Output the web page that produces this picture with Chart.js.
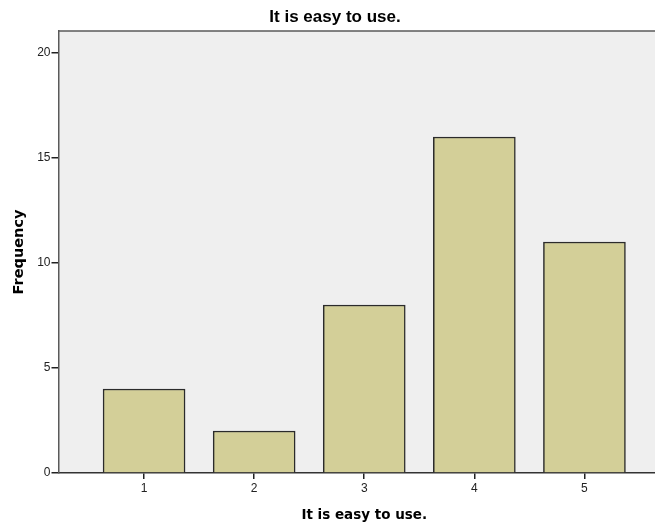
<!DOCTYPE html>
<html>
<head>
<meta charset="utf-8">
<script src="https://cdn.jsdelivr.net/npm/chart.js@4"></script>
<style>
  html, body { margin: 0; padding: 0; background: #fff; overflow: hidden; }
</style>
</head>
<body>
<canvas id="easyChart" width="670" height="525"></canvas>
<script>
// Frequencies
const categories = [1, 2, 3, 4, 5];
const frequencies = [4, 2, 8, 16, 11];
const yTicks = [0, 5, 10, 15, 20];

// plot background + top border, like the SPSS frame
const frameBg = {
    id: 'frameBg',
    beforeDraw(chart) {
        const { ctx, chartArea: a } = chart;
        ctx.save();
        ctx.fillStyle = '#efefef';
        ctx.fillRect(a.left, a.top, a.right - a.left, a.bottom - a.top);
        ctx.strokeStyle = '#5a5a5a';
        ctx.lineWidth = 1.5;
        ctx.beginPath();
        ctx.moveTo(a.left, a.top);
        ctx.lineTo(a.right, a.top);
        ctx.stroke();
        ctx.restore();
    }
};

const config = {
    type: 'bar',
    data: {
        datasets: [{
            data: categories.map((c, i) => ({ x: c, y: frequencies[i] })),
            backgroundColor: '#d3cf98',
            borderColor: '#2b2b2b',
            borderWidth: 1.5,
            barThickness: 82
        }]
    },
    options: {
        responsive: false,
        animation: false,
        layout: { padding: 0 },
        plugins: {
            legend: { display: false },
            tooltip: { enabled: false },
            title: {
                display: true,
                text: 'It is easy to use.',
                color: '#000',
                font: { family: 'Liberation Sans', size: 17, weight: 'bold' },
                padding: { top: 7.5, bottom: 3.1 }
            }
        },
        scales: {
            x: {
                type: 'linear',
                offset: false,
                min: 0.2227,
                max: 5.7773,
                afterBuildTicks(scale) {
                    scale.ticks = categories.map(v => ({ value: v }));
                },
                afterFit(scale) { scale.height = 52; },
                grid: { offset: false, drawOnChartArea: false, drawTicks: true, tickLength: 6, color: '#222', lineWidth: 1.5 },
                border: { display: true, color: '#333', width: 1.5 },
                ticks: {
                    color: '#222',
                    font: { family: 'Liberation Sans', size: 12 },
                    padding: 2
                },
                title: {
                    display: true,
                    text: 'It is easy to use.',
                    color: '#000',
                    font: { family: 'DejaVu Sans', size: 13.5, weight: 'bold' },
                    padding: { top: 0, bottom: 1 }
                }
            },
            y: {
                min: 0,
                max: 21.05,
                afterBuildTicks(scale) {
                    scale.ticks = yTicks.map(v => ({ value: v }));
                },
                afterFit(scale) { scale.width = 58.5; },
                grid: { drawOnChartArea: false, drawTicks: true, tickLength: 7, color: '#222', lineWidth: 1.5 },
                border: { display: true, color: '#5a5a5a', width: 1.5 },
                ticks: {
                    color: '#222',
                    font: { family: 'Liberation Sans', size: 12 },
                    padding: 1
                },
                title: {
                    display: true,
                    text: 'Frequency',
                    color: '#000',
                    font: { family: 'DejaVu Sans', size: 14.5, weight: 'bold' },
                    padding: { top: 10.5, bottom: 0 }
                }
            }
        }
    },
    plugins: [frameBg]
};

const easyChart = new Chart(document.getElementById('easyChart'), config);
</script>
</body>
</html>
